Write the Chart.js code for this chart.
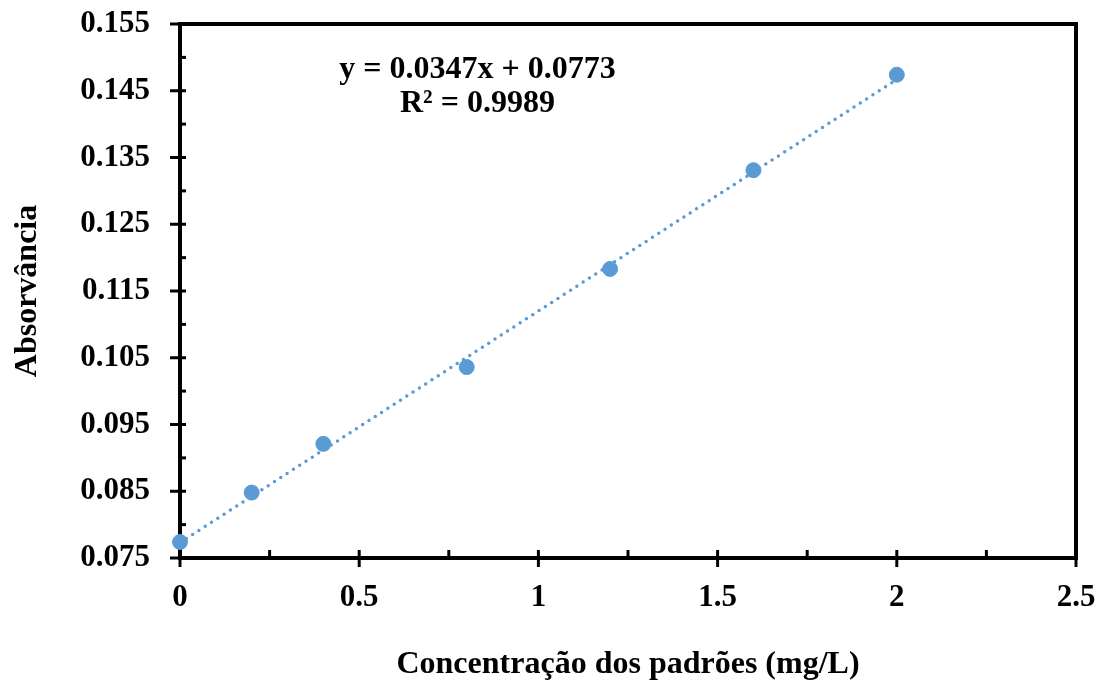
<!DOCTYPE html>
<html>
<head>
<meta charset="utf-8">
<script src="https://cdn.jsdelivr.net/npm/chart.js@4.4.0/dist/chart.umd.min.js"></script>
<style>
  html, body { margin: 0; padding: 0; background: #fff; overflow: hidden; }
</style>
</head>
<body>
<canvas id="calChart" width="1100" height="684"></canvas>
<script>
/* ------------------------------
   CALIBRATION DATA
--------------------------------*/
const concentrations = [0, 0.2, 0.4, 0.8, 1.2, 1.6, 2.0];
const absorbances = [0.0774, 0.0848, 0.0921, 0.1036, 0.1183, 0.1331, 0.1474];

const xTicks = [0, 0.5, 1, 1.5, 2, 2.5];
const yTicks = [0.075, 0.085, 0.095, 0.105, 0.115, 0.125, 0.135, 0.145, 0.155];

const slope = 0.0347;
const intercept = 0.0773;
const trendX = [0, 2];
const equationLines = ["y = 0.0347x + 0.0773", "R\u00b2 = 0.9989"];

const FONT = "'Liberation Serif', 'Times New Roman', serif";
const BLUE = "#5b9bd5";

/* ------------------------------
   FRAME + TICK MARKS (Excel style)
--------------------------------*/
const framePlugin = {
    id: "frame",
    beforeDatasetsDraw(chart) {
        const ctx = chart.ctx;
        const xs = chart.scales.x, ys = chart.scales.y;
        const a = chart.chartArea;
        ctx.save();
        ctx.strokeStyle = "#000";
        ctx.lineCap = "butt";

        // ticks
        ctx.lineWidth = 3;
        xTicks.forEach((v, i) => {
            let px = xs.getPixelForValue(v);
            ctx.beginPath(); ctx.moveTo(px, a.bottom + 9); ctx.lineTo(px, a.bottom - 8); ctx.stroke();
            if (i < xTicks.length - 1) {
                let mx = xs.getPixelForValue((v + xTicks[i + 1]) / 2);
                ctx.beginPath(); ctx.moveTo(mx, a.bottom); ctx.lineTo(mx, a.bottom - 8); ctx.stroke();
            }
        });
        yTicks.forEach((v, i) => {
            let py = ys.getPixelForValue(v);
            ctx.beginPath(); ctx.moveTo(a.left - 10, py); ctx.lineTo(a.left + 6, py); ctx.stroke();
            if (i < yTicks.length - 1) {
                let my = ys.getPixelForValue((v + yTicks[i + 1]) / 2);
                ctx.beginPath(); ctx.moveTo(a.left, my); ctx.lineTo(a.left + 6, my); ctx.stroke();
            }
        });

        // box
        ctx.lineWidth = 4;
        ctx.strokeRect(a.left, a.top, a.right - a.left, a.bottom - a.top);
        ctx.restore();
    },
    afterDatasetsDraw(chart) {
        // equation text
        const ctx = chart.ctx;
        const xs = chart.scales.x, ys = chart.scales.y;
        ctx.save();
        ctx.fillStyle = "#000";
        ctx.font = "bold 32px " + FONT;
        ctx.textAlign = "center";
        ctx.textBaseline = "middle";
        let ex = xs.getPixelForValue(0.83);
        ctx.fillText(equationLines[0], ex, ys.getPixelForValue(0.1481));
        ctx.fillText(equationLines[1], ex, ys.getPixelForValue(0.1430));
        ctx.restore();
    }
};

/* ------------------------------
   CHART
--------------------------------*/
let calCtx = document.getElementById("calChart");

let calChart = new Chart(calCtx, {
    type: "scatter",
    data: {
        datasets: [{
            label: "Padrões",
            data: concentrations.map((c, i) => ({ x: c, y: absorbances[i] })),
            backgroundColor: BLUE,
            borderColor: BLUE,
            pointRadius: 7.5,
            pointHoverRadius: 7.5,
            clip: false,
            order: 1
        }, {
            label: "Linear",
            type: "line",
            data: trendX.map(x => ({ x: x, y: slope * x + intercept })),
            borderColor: BLUE,
            borderWidth: 3.5,
            borderDash: [0, 7.5],
            borderCapStyle: "round",
            pointRadius: 0,
            fill: false,
            order: 2
        }]
    },
    options: {
        responsive: false,
        animation: false,
        events: [],
        layout: { padding: { top: 24, right: 24, left: 0, bottom: 0 } },
        plugins: { legend: { display: false }, tooltip: { enabled: false } },
        scales: {
            x: {
                type: "linear",
                min: 0, max: 2.5,
                grid: { display: false, drawTicks: false },
                border: { display: false },
                afterBuildTicks: s => { s.ticks = xTicks.map(v => ({ value: v })); },
                afterFit: s => { s.height = 126; s.paddingLeft = 0; s.paddingRight = 0; },
                ticks: {
                    color: "#000",
                    padding: 21,
                    font: { family: FONT, size: 31, weight: "bold" },
                    callback: v => String(v)
                },
                title: {
                    display: true,
                    text: "Concentração dos padrões (mg/L)",
                    color: "#000",
                    font: { family: FONT, size: 32, weight: "bold" },
                    padding: { top: 30, bottom: 0 }
                }
            },
            y: {
                type: "linear",
                min: 0.075, max: 0.155,
                grid: { display: false, drawTicks: false },
                border: { display: false },
                afterBuildTicks: s => { s.ticks = yTicks.map(v => ({ value: v })); },
                afterFit: s => { s.width = 180; s.paddingTop = 0; s.paddingBottom = 0; },
                ticks: {
                    color: "#000",
                    padding: 30,
                    font: { family: FONT, size: 31, weight: "bold" },
                    callback: v => v.toFixed(3)
                },
                title: {
                    display: true,
                    text: "Absorvância",
                    color: "#000",
                    font: { family: FONT, size: 32, weight: "bold" },
                    padding: { top: 9, bottom: 0 }
                }
            }
        }
    },
    plugins: [framePlugin]
});
</script>
</body>
</html>
